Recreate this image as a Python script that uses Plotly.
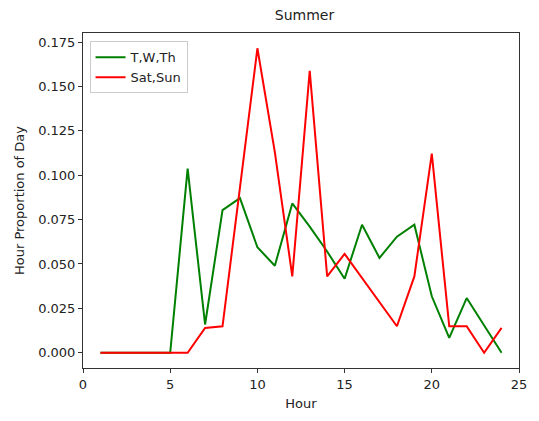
import plotly.graph_objects as go

hours = list(range(1, 25))
weekday = [0, 0, 0, 0, 0, 0.1037, 0.0159, 0.0803, 0.0871, 0.0594, 0.0490, 0.0841,
           0.0710, 0.0570, 0.0417, 0.0721, 0.0534, 0.0654, 0.0721, 0.0318, 0.0084,
           0.0308, 0.0150, 0.0]
weekend = [0, 0, 0, 0, 0, 0, 0.0140, 0.0149, 0.0930, 0.1715, 0.1130, 0.0430,
           0.1588, 0.0430, 0.0557, 0.0420, 0.0280, 0.0149, 0.0430, 0.1121, 0.0149,
           0.0149, 0.0, 0.0140]
y_ticks = [0.0, 0.025, 0.05, 0.075, 0.1, 0.125, 0.15, 0.175]
x_ticks = [0, 5, 10, 15, 20, 25]

fig = go.Figure()
fig.add_trace(go.Scatter(x=hours, y=weekday, mode="lines", name="T,W,Th",
                         line=dict(color="#008000", width=2)))
fig.add_trace(go.Scatter(x=hours, y=weekend, mode="lines", name="Sat,Sun",
                         line=dict(color="#ff0000", width=2)))

axis_style = dict(showgrid=False, zeroline=False, showline=True, linecolor="#333333",
                  linewidth=1, mirror=True, ticks="outside", ticklen=4,
                  tickcolor="#333333", tickfont=dict(size=13, color="#222222"))

fig.update_layout(
    width=539, height=421,
    margin=dict(l=83, r=13, t=33, b=53),
    paper_bgcolor="white", plot_bgcolor="white",
    font=dict(family="DejaVu Sans", size=13, color="#222222"),
    title=dict(text="Summer", x=0.565, xanchor="center", y=0.964, yanchor="middle",
               font=dict(size=14)),
    xaxis=dict(range=[0, 25], tickvals=x_ticks, ticktext=[str(v) for v in x_ticks],
               title=dict(text="Hour", font=dict(size=13), standoff=8), **axis_style),
    yaxis=dict(range=[-0.0086, 0.1801], tickvals=y_ticks,
               ticktext=[f"{v:.3f}" for v in y_ticks],
               title=dict(text="Hour Proportion of Day", font=dict(size=13), standoff=10),
               **axis_style),
    legend=dict(x=0.015, y=0.975, xanchor="left", yanchor="top",
                bgcolor="rgba(255,255,255,0.9)", bordercolor="#cccccc", borderwidth=1,
                font=dict(size=13), itemwidth=30, tracegroupgap=2),
    showlegend=True,
)

fig.write_html("out.html")
